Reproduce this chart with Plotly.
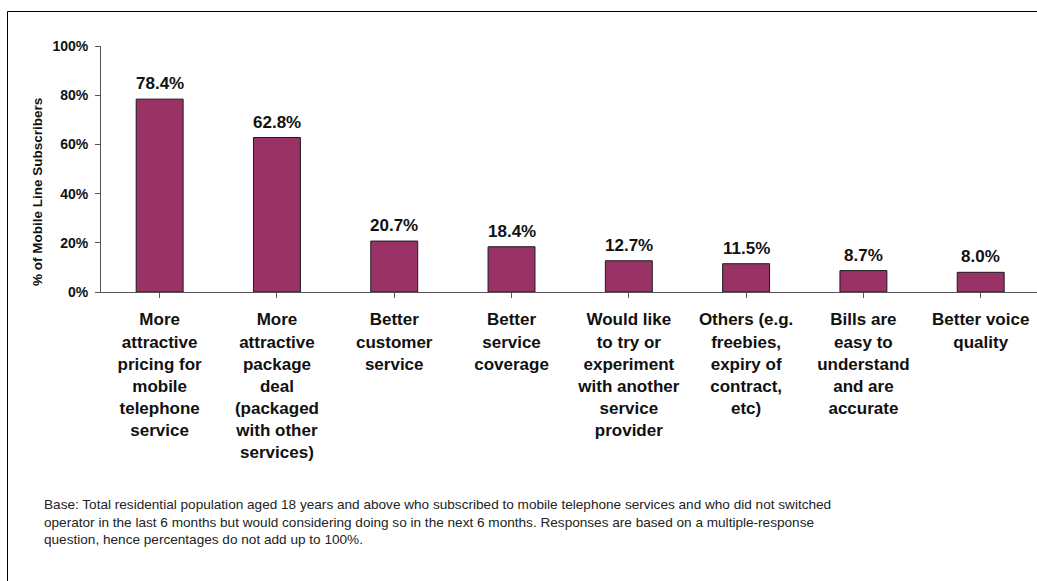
import plotly.graph_objects as go

# Reasons for considering a switch of mobile operator
categories = [
    "More<br>attractive<br>pricing for<br>mobile<br>telephone<br>service",
    "More<br>attractive<br>package<br>deal<br>(packaged<br>with other<br>services)",
    "Better<br>customer<br>service",
    "Better<br>service<br>coverage",
    "Would like<br>to try or<br>experiment<br>with another<br>service<br>provider",
    "Others (e.g.<br>freebies,<br>expiry of<br>contract,<br>etc)",
    "Bills are<br>easy to<br>understand<br>and are<br>accurate",
    "Better voice<br>quality",
]
values = [78.4, 62.8, 20.7, 18.4, 12.7, 11.5, 8.7, 8.0]
y_ticks = [0, 20, 40, 60, 80, 100]

footnote = (
    "Base: Total residential population aged 18 years and above who subscribed to mobile telephone services and who did not switched<br>"
    "operator in the last 6 months but would considering doing so in the next 6 months. Responses are based on a multiple-response<br>"
    "question, hence percentages do not add up to 100%."
)

W, H = 1037, 581
ML, MR, MT, MB = 101, 0, 46, 289
PW, PH = W - ML - MR, H - MT - MB
FONT = "Arial, Liberation Sans, sans-serif"


def px_x(p):
    return (p - ML) / PW


def px_y(p):
    return (H - MB - p) / PH


fig = go.Figure()
fig.add_trace(go.Bar(
    x=list(range(len(categories))),
    y=values,
    width=0.4,
    marker=dict(color="#993366", line=dict(color="#1a1a1a", width=1)),
    hoverinfo="skip",
))

annotations = []
for i, v in enumerate(values):
    annotations.append(dict(
        x=i, y=v, xref="x", yref="y", text=f"{v:.1f}%",
        showarrow=False, yanchor="bottom", yshift=4,
        font=dict(family=FONT, size=17, color="#111", weight="bold"),
    ))

annotations.append(dict(
    x=px_x(37), y=px_y(192), xref="paper", yref="paper",
    text="% of Mobile Line Subscribers", textangle=-90, showarrow=False,
    xanchor="center", yanchor="middle",
    font=dict(family=FONT, size=13.5, color="#111", weight="bold"),
))

annotations.append(dict(
    x=px_x(42), y=px_y(495), xref="paper", yref="paper",
    text=footnote, showarrow=False, align="left",
    xanchor="left", yanchor="top",
    font=dict(family=FONT, size=13.6, color="#222"),
))

# Chart frame: left and top edges
shapes = [
    dict(type="line", xref="paper", yref="paper",
         x0=px_x(7.5), y0=px_y(H + 5), x1=px_x(7.5), y1=px_y(11.5),
         line=dict(color="#000", width=1)),
    dict(type="line", xref="paper", yref="paper",
         x0=px_x(7.5), y0=px_y(11.5), x1=px_x(W + 5), y1=px_y(11.5),
         line=dict(color="#000", width=1)),
]

fig.update_layout(
    width=W, height=H,
    margin=dict(l=ML, r=MR, t=MT, b=MB, pad=0),
    paper_bgcolor="white", plot_bgcolor="white",
    showlegend=False,
    annotations=annotations,
    shapes=shapes,
    font=dict(family=FONT),
)

fig.update_xaxes(
    range=[-0.5, 7.48],
    tickmode="array", tickvals=list(range(len(categories))), ticktext=categories,
    tickson="boundaries", ticks="outside", ticklen=5, tickcolor="#555",
    showline=True, linecolor="#555", linewidth=1,
    showgrid=False, zeroline=False,
    tickangle=0,
    tickfont=dict(family=FONT, size=17, color="#111", weight="bold"),
    ticklabelstandoff=7,
)
fig.update_yaxes(
    range=[0, 100],
    tickmode="array", tickvals=y_ticks, ticktext=[f"{t}%" for t in y_ticks],
    ticks="outside", ticklen=5, tickcolor="#555",
    showline=True, linecolor="#555", linewidth=1,
    showgrid=False, zeroline=False,
    tickfont=dict(family=FONT, size=14, color="#111", weight="bold"),
    ticklabelstandoff=4,
)

fig.write_html("out.html")
